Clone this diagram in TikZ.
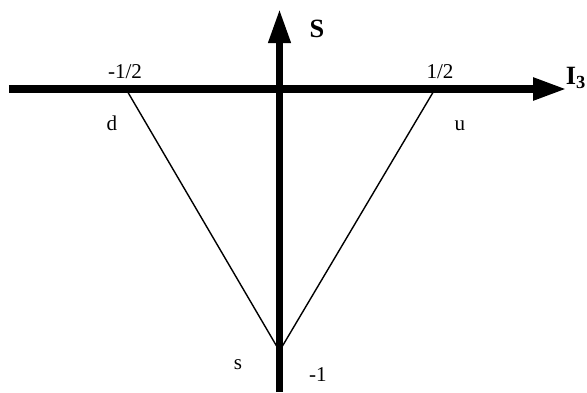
\documentclass[tikz,border=0pt]{standalone}
\usepackage{fontspec}
\setmainfont{Liberation Serif}
\usetikzlibrary{arrows.meta}

\begin{document}
\begin{tikzpicture}
    \useasboundingbox (0,0) rectangle (11.74,7.84);
    \tikzset{axis/.style={black,line width=0.16cm,-{Triangle[length=0.68cm,width=0.42cm]}},
             lab/.style={font=\fontsize{12}{14}\selectfont},
             axlab/.style={font=\fontsize{15}{17}\selectfont\bfseries}}

    \coordinate (Ileft) at (0.18,6.06);
    \coordinate (Iright) at (11.34,6.06);
    \coordinate (Sbot) at (5.59,0);
    \coordinate (Stop) at (5.59,7.66);

    \coordinate (d) at (2.52,6.06);
    \coordinate (u) at (8.70,6.06);
    \coordinate (s) at (5.59,0.82);

    \node[axlab] (Slab) at (6.34,7.26) {S};
    \node[axlab] (Ilab) at (11.52,6.28) {I$_{\mathbf{3}}$};
    \node[lab] (dpos) at (2.50,6.40) {-1/2};
    \node[lab] (upos) at (8.80,6.40) {1/2};
    \node[lab] (spos) at (6.36,0.34) {-1};
    \node[lab] (dlab) at (2.24,5.38) {d};
    \node[lab] (ulab) at (9.20,5.32) {u};
    \node[lab] (slab) at (4.76,0.54) {s};

    \draw[black,line width=0.8pt] (d) -- (s) -- (u);

    \draw[axis] (Ileft) -- (Iright);
    \draw[axis,line width=0.14cm] (Sbot) -- (Stop);
\end{tikzpicture}
\end{document}
